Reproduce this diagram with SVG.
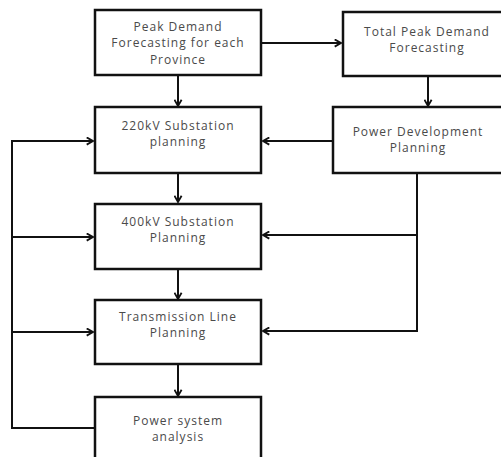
<svg xmlns="http://www.w3.org/2000/svg" width="501" height="457" viewBox="0 0 501 457">
<defs>
<style>
.box{fill:#fff;stroke:#111;stroke-width:2.5}
.t{font-family:"Open Sans","Liberation Sans",sans-serif;font-size:12px;fill:#4a4a4a;text-anchor:middle;letter-spacing:1px}
.c{fill:none;stroke:#111;stroke-width:2}
</style>
<marker id="ah" viewBox="0 0 10 10" refX="9" refY="5" markerWidth="9" markerHeight="9" orient="auto" markerUnits="userSpaceOnUse">
<path d="M2,1 L9,5 L2,9" fill="none" stroke="#111" stroke-width="2"/>
</marker>
</defs>
<rect width="501" height="457" fill="#fff"/>
<g id="connectors">
<path class="c" d="M178,75 V106" marker-end="url(#ah)"/>
<path class="c" d="M261,43 H341" marker-end="url(#ah)"/>
<path class="c" d="M428,76 V106" marker-end="url(#ah)"/>
<path class="c" d="M333,141 H263" marker-end="url(#ah)"/>
<path class="c" d="M178,173 V202" marker-end="url(#ah)"/>
<path class="c" d="M178,269 V299" marker-end="url(#ah)"/>
<path class="c" d="M178,364 V396" marker-end="url(#ah)"/>
<path class="c" d="M95,428 H12 V141 H93" marker-end="url(#ah)"/>
<path class="c" d="M12,237 H93" marker-end="url(#ah)"/>
<path class="c" d="M12,332 H93" marker-end="url(#ah)"/>
<path class="c" d="M417,173 V331 H263" marker-end="url(#ah)"/>
<path class="c" d="M417,235 H263" marker-end="url(#ah)"/>
</g>
<g id="peak-demand">
<rect class="box" x="95" y="10" width="166" height="65"/>
<text class="t" x="178" y="31">Peak Demand</text>
<text class="t" x="178" y="47">Forecasting for each</text>
<text class="t" x="178" y="64">Province</text>
</g>
<g id="total-peak">
<rect class="box" x="343" y="12" width="160" height="64"/>
<text class="t" x="427" y="36">Total Peak Demand</text>
<text class="t" x="427" y="52">Forecasting</text>
</g>
<g id="sub220">
<rect class="box" x="95" y="107" width="166" height="66"/>
<text class="t" x="178" y="130">220kV Substation</text>
<text class="t" x="178" y="146">planning</text>
</g>
<g id="power-dev">
<rect class="box" x="333" y="107" width="170" height="66"/>
<text class="t" x="418" y="136">Power Development</text>
<text class="t" x="418" y="152">Planning</text>
</g>
<g id="sub400">
<rect class="box" x="95" y="204" width="166" height="65"/>
<text class="t" x="178" y="226">400kV Substation</text>
<text class="t" x="178" y="242">Planning</text>
</g>
<g id="transmission">
<rect class="box" x="95" y="300" width="166" height="64"/>
<text class="t" x="178" y="321">Transmission Line</text>
<text class="t" x="178" y="337">Planning</text>
</g>
<g id="psa">
<rect class="box" x="95" y="397" width="166" height="70"/>
<text class="t" x="178" y="425">Power system</text>
<text class="t" x="178" y="441">analysis</text>
</g>
</svg>
